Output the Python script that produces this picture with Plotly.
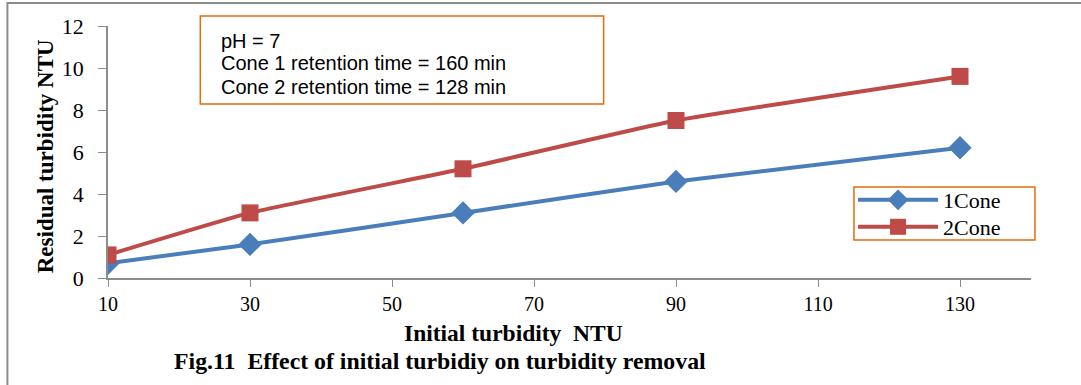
import plotly.graph_objects as go

# Initial turbidity (NTU) and residual turbidity (NTU) for each cone
initial_turbidity = [10, 30, 60, 90, 130]
cone1_residual = [0.7, 1.6, 3.1, 4.6, 6.2]
cone2_residual = [1.1, 3.1, 5.2, 7.5, 9.6]
x_ticks = [10, 30, 50, 70, 90, 110, 130]
y_ticks = [0, 2, 4, 6, 8, 10, 12]
condition_lines = [
    "pH = 7",
    "Cone 1 retention time = 160 min",
    "Cone 2 retention time = 128 min",
]

serif = "Liberation Serif, Times New Roman, serif"
sans = "Liberation Sans, Arial, sans-serif"
legend_font = dict(family=serif, size=22, color="black")

fig = go.Figure()
fig.add_trace(go.Scatter(
    x=initial_turbidity, y=cone1_residual, name="1Cone", legend="legend",
    mode="lines+markers",
    line=dict(color="#4A7EBB", width=4, shape="spline", smoothing=0.4),
    marker=dict(symbol="diamond", size=18, color="#4A7EBB"),
))
fig.add_trace(go.Scatter(
    x=initial_turbidity, y=cone2_residual, name="2Cone", legend="legend2",
    mode="lines+markers",
    line=dict(color="#BE4B48", width=4, shape="spline", smoothing=0.4),
    marker=dict(symbol="square", size=17, color="#BE4B48"),
))

annotations = [
    dict(text=line, xref="paper", yref="paper", x=0.12, y=ypos,
         xanchor="left", yanchor="middle", align="left", showarrow=False,
         font=dict(family=sans, size=20, color="black"))
    for line, ypos in zip(condition_lines, [0.94, 0.853, 0.758])
]
annotations += [
    dict(text="<b>Residual turbidity NTU</b>", textangle=-90,
         xref="paper", yref="paper", x=-0.068, y=0.484,
         xanchor="center", yanchor="middle", showarrow=False,
         font=dict(family=serif, size=23, color="black")),
    dict(text="<b>Initial turbidity&nbsp;&nbsp;NTU</b>",
         xref="paper", yref="paper", x=0.439, y=-0.218,
         xanchor="center", yanchor="middle", showarrow=False,
         font=dict(family=serif, size=23.5, color="black")),
    dict(text="<b>Fig.11&nbsp;&nbsp;Effect of initial turbidiy on turbidity removal</b>",
         xref="paper", yref="paper", x=0.069, y=-0.329,
         xanchor="left", yanchor="middle", showarrow=False,
         font=dict(family=serif, size=23.8, color="black")),
]

legend_common = dict(
    x=0.8072, xanchor="left", yanchor="middle",
    borderwidth=0, bgcolor="rgba(0,0,0,0)",
    font=legend_font, itemwidth=80,
)

fig.update_layout(
    width=1081, height=385,
    margin=dict(l=108, r=50, t=26, b=107),
    paper_bgcolor="white", plot_bgcolor="white",
    showlegend=True,
    legend=dict(y=0.3095, **legend_common),
    legend2=dict(y=0.2024, **legend_common),
    xaxis=dict(
        range=[10, 140], tickmode="array", tickvals=x_ticks,
        showgrid=False, zeroline=False,
        showline=True, linecolor="#8C8C8C", linewidth=1.5,
        ticks="outside", ticklen=7, tickcolor="#8C8C8C",
        tickfont=dict(family=serif, size=20, color="black"),
    ),
    yaxis=dict(
        range=[0, 12], tickmode="array", tickvals=y_ticks,
        showgrid=False, zeroline=False,
        showline=True, linecolor="#8C8C8C", linewidth=1.5,
        ticks="outside", ticklen=8, tickcolor="#8C8C8C",
        ticklabelstandoff=10,
        tickfont=dict(family=serif, size=22, color="black"),
    ),
    shapes=[
        # outer frame of the figure
        dict(type="rect", xref="paper", yref="paper",
             x0=-0.109, x1=1.3, y0=-0.7, y1=1.091,
             line=dict(color="#8C8C8C", width=2)),
        # conditions box
        dict(type="rect", xref="paper", yref="paper",
             x0=0.1, x1=0.537, y0=0.69, y1=1.04,
             line=dict(color="#E46C0A", width=1.5), fillcolor="white",
             layer="above"),
        # legend frame
        dict(type="rect", xref="paper", yref="paper",
             x0=0.8082, x1=1.0043, y0=0.1508, y1=0.3611,
             line=dict(color="#E46C0A", width=1.5), fillcolor="white",
             layer="below"),
    ],
    annotations=annotations,
)

fig.write_html("out.html")
